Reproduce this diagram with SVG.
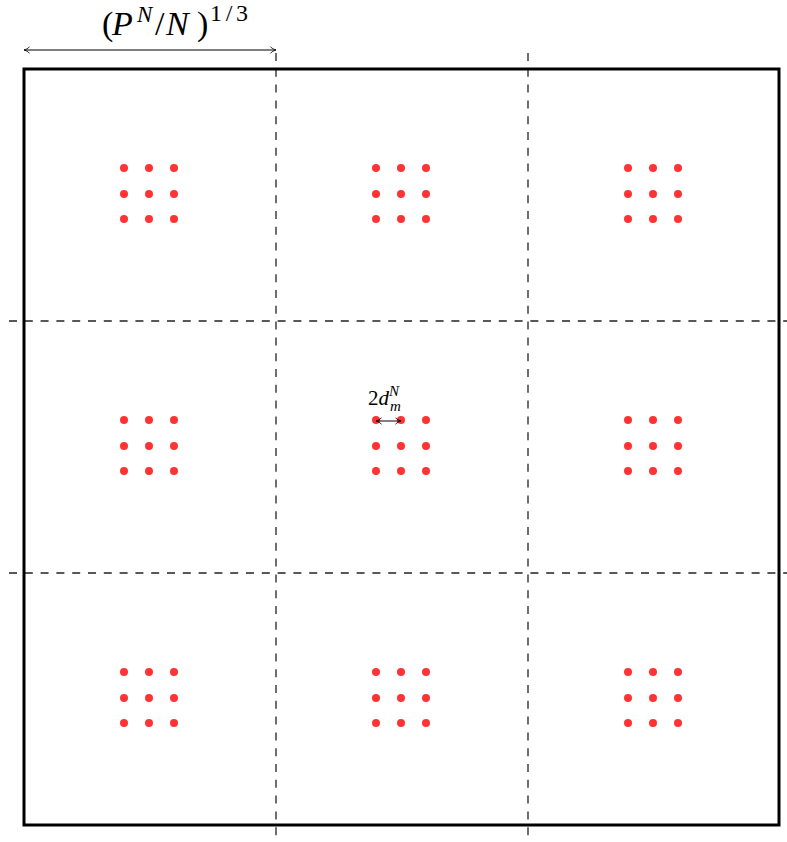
<svg xmlns="http://www.w3.org/2000/svg" width="787" height="842" viewBox="0 0 787 842">
<defs>
<style>
.dash{stroke:#222;stroke-width:1.3;stroke-dasharray:8 7.8;fill:none}
.frame{stroke:#000;stroke-width:3;fill:none}
.arr{stroke:#000;stroke-width:1;fill:none;marker-start:url(#ah);marker-end:url(#ah)}
.dot{fill:#f33}
.math{font-family:'Liberation Serif','DejaVu Serif',serif;fill:#000}
.it{font-style:italic}
</style>
<marker id="ah" viewBox="0 0 10 10" refX="9" refY="5" markerWidth="8" markerHeight="8" orient="auto-start-reverse" markerUnits="userSpaceOnUse">
<path d="M2,1 Q5,4 9,5 Q5,6 2,9" fill="none" stroke="#000" stroke-width="1"/>
</marker>
<g id="cl">
<circle class="dot" cx="-25" cy="-26" r="4"/><circle class="dot" cx="0" cy="-26" r="4"/><circle class="dot" cx="25" cy="-26" r="4"/>
<circle class="dot" cx="-25" cy="0" r="4"/><circle class="dot" cx="0" cy="0" r="4"/><circle class="dot" cx="25" cy="0" r="4"/>
<circle class="dot" cx="-25" cy="25" r="4"/><circle class="dot" cx="0" cy="25" r="4"/><circle class="dot" cx="25" cy="25" r="4"/>
</g>
</defs>
<rect width="787" height="842" fill="#fff"/>
<g id="grid">
<line class="dash" x1="276" y1="53" x2="276" y2="842"/>
<line class="dash" x1="528" y1="53" x2="528" y2="842"/>
<line class="dash" x1="9" y1="321" x2="787" y2="321"/>
<line class="dash" x1="9" y1="573" x2="787" y2="573"/>
</g>
<rect id="frame" class="frame" x="24" y="69" width="755" height="756"/>
<g id="clusters">
<use href="#cl" x="149" y="194"/><use href="#cl" x="401" y="194"/><use href="#cl" x="653" y="194"/>
<use href="#cl" x="149" y="446"/><use href="#cl" x="401" y="446"/><use href="#cl" x="653" y="446"/>
<use href="#cl" x="149" y="698"/><use href="#cl" x="401" y="698"/><use href="#cl" x="653" y="698"/>
</g>
<g id="connectors">
<line class="arr" x1="24" y1="50" x2="276" y2="50"/>
<line class="arr" x1="376" y1="421" x2="401" y2="421"/>
</g>
<g id="labels">
<text class="math" x="102" y="35" font-size="34">(<tspan class="it" x="112">P</tspan><tspan class="it" font-size="23" x="137" y="22">N</tspan><tspan x="155" y="35">/</tspan><tspan class="it" x="166">N</tspan><tspan x="197">)</tspan><tspan font-size="24" x="210" y="21" textLength="38" lengthAdjust="spacing">1/3</tspan></text>
<text class="math" x="368" y="405" font-size="21">2<tspan class="it">d</tspan><tspan class="it" font-size="15" dy="-9">N</tspan></text>
<text class="math it" x="390" y="411" font-size="15">m</text>
</g>
</svg>
